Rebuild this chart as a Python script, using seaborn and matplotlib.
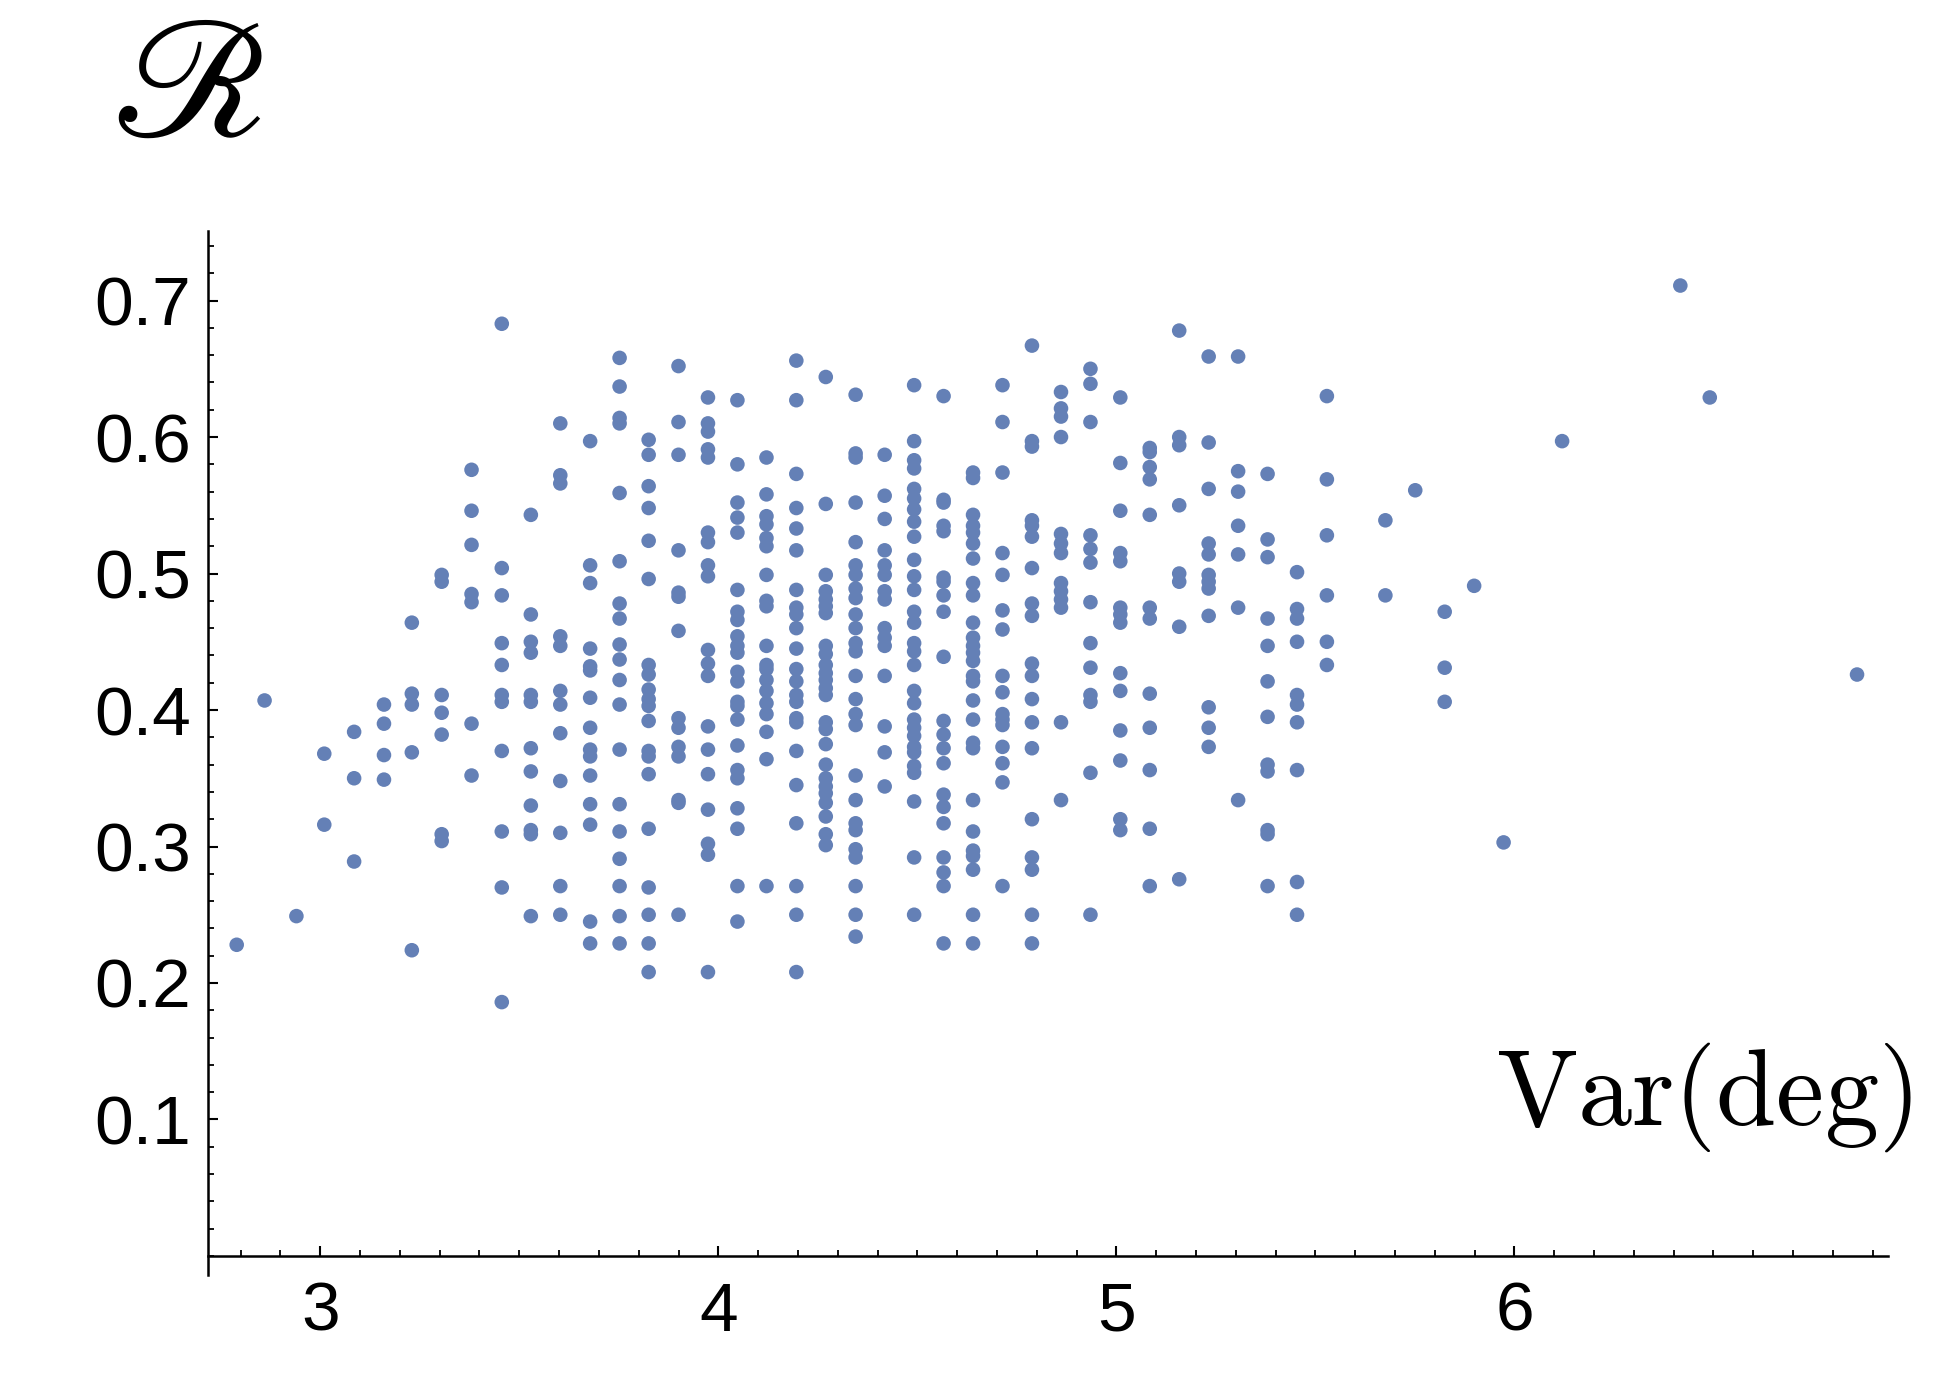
import numpy as np
import pandas as pd
import matplotlib
matplotlib.use("Agg")
import matplotlib.pyplot as plt
from matplotlib.ticker import MultipleLocator, FixedLocator
import seaborn as sns

# x position of each column of points (Var(deg)) and the R values read in that column
col_x = [2.79, 2.86, 2.94, 3.01, 3.085, 3.16, 3.23, 3.305, 3.38, 3.456,
         3.529, 3.603, 3.678, 3.752, 3.825, 3.900, 3.974, 4.048, 4.121, 4.196,
         4.270, 4.345, 4.418, 4.492, 4.566, 4.640, 4.714, 4.788, 4.861, 4.935,
         5.010, 5.084, 5.158, 5.232, 5.306, 5.380, 5.454, 5.529, 5.676, 5.751,
         5.825, 5.899, 5.973, 6.120, 6.417, 6.491, 6.861]

col_r = [
    [0.228],
    [0.407],
    [0.249],
    [0.368, 0.316],
    [0.384, 0.350, 0.289],
    [0.404, 0.390, 0.367, 0.349],
    [0.464, 0.412, 0.404, 0.369, 0.224],
    [0.499, 0.494, 0.411, 0.398, 0.382, 0.309, 0.304],
    [0.576, 0.546, 0.521, 0.485, 0.479, 0.390, 0.352],
    [0.683, 0.504, 0.484, 0.449, 0.433, 0.411, 0.406, 0.370, 0.311, 0.270, 0.186],
    [0.543, 0.470, 0.450, 0.442, 0.411, 0.406, 0.372, 0.355, 0.330, 0.312, 0.309, 0.249],
    [0.610, 0.572, 0.566, 0.454, 0.447, 0.414, 0.404, 0.383, 0.348, 0.310, 0.271, 0.250],
    [0.597, 0.506, 0.493, 0.445, 0.432, 0.429, 0.409, 0.387, 0.371, 0.366, 0.352, 0.331,
     0.316, 0.245, 0.229],
    [0.658, 0.637, 0.614, 0.610, 0.559, 0.509, 0.478, 0.467, 0.448, 0.437, 0.422, 0.404,
     0.371, 0.331, 0.311, 0.291, 0.271, 0.249, 0.229],
    [0.598, 0.587, 0.564, 0.548, 0.524, 0.496, 0.433, 0.426, 0.415, 0.408, 0.403, 0.392,
     0.370, 0.366, 0.353, 0.313, 0.270, 0.250, 0.229, 0.208],
    [0.652, 0.611, 0.587, 0.517, 0.486, 0.483, 0.458, 0.394, 0.387, 0.373, 0.366, 0.334,
     0.332, 0.250],
    [0.629, 0.610, 0.604, 0.591, 0.585, 0.530, 0.523, 0.506, 0.498, 0.444, 0.434, 0.425,
     0.388, 0.371, 0.353, 0.327, 0.302, 0.294, 0.208],
    [0.627, 0.580, 0.552, 0.541, 0.530, 0.488, 0.472, 0.466, 0.454, 0.447, 0.442, 0.428,
     0.421, 0.406, 0.403, 0.393, 0.374, 0.356, 0.350, 0.328, 0.313, 0.271, 0.245],
    [0.585, 0.558, 0.542, 0.536, 0.526, 0.520, 0.499, 0.480, 0.476, 0.447, 0.433, 0.430,
     0.422, 0.414, 0.405, 0.397, 0.384, 0.364, 0.271],
    [0.656, 0.627, 0.573, 0.548, 0.533, 0.517, 0.488, 0.475, 0.470, 0.460, 0.445, 0.430,
     0.421, 0.411, 0.406, 0.394, 0.391, 0.370, 0.345, 0.317, 0.271, 0.250, 0.208],
    [0.644, 0.551, 0.499, 0.487, 0.481, 0.476, 0.471, 0.447, 0.441, 0.433, 0.427, 0.422,
     0.416, 0.411, 0.391, 0.386, 0.375, 0.360, 0.350, 0.344, 0.339, 0.332, 0.322, 0.309,
     0.301],
    [0.631, 0.588, 0.585, 0.552, 0.523, 0.506, 0.499, 0.489, 0.482, 0.470, 0.460, 0.449,
     0.443, 0.425, 0.408, 0.397, 0.389, 0.352, 0.334, 0.317, 0.312, 0.298, 0.292, 0.271,
     0.250, 0.234],
    [0.587, 0.557, 0.540, 0.517, 0.506, 0.499, 0.487, 0.481, 0.460, 0.453, 0.447, 0.425,
     0.388, 0.369, 0.344],
    [0.638, 0.597, 0.583, 0.577, 0.562, 0.555, 0.547, 0.538, 0.527, 0.510, 0.498, 0.488,
     0.472, 0.464, 0.449, 0.443, 0.433, 0.414, 0.405, 0.393, 0.387, 0.381, 0.373, 0.369,
     0.359, 0.354, 0.333, 0.292, 0.250],
    [0.630, 0.554, 0.552, 0.535, 0.531, 0.497, 0.494, 0.484, 0.472, 0.439, 0.392, 0.382,
     0.372, 0.361, 0.338, 0.329, 0.317, 0.292, 0.281, 0.271, 0.229],
    [0.574, 0.570, 0.543, 0.535, 0.530, 0.522, 0.511, 0.493, 0.484, 0.464, 0.453, 0.447,
     0.442, 0.436, 0.425, 0.421, 0.407, 0.393, 0.376, 0.372, 0.334, 0.311, 0.297, 0.293,
     0.283, 0.250, 0.229],
    [0.638, 0.611, 0.574, 0.515, 0.499, 0.473, 0.459, 0.425, 0.413, 0.397, 0.393, 0.389,
     0.373, 0.361, 0.347, 0.271],
    [0.667, 0.597, 0.593, 0.539, 0.535, 0.527, 0.504, 0.478, 0.469, 0.434, 0.425, 0.408,
     0.391, 0.372, 0.320, 0.292, 0.283, 0.250, 0.229],
    [0.633, 0.621, 0.615, 0.600, 0.529, 0.522, 0.515, 0.493, 0.487, 0.481, 0.475, 0.391,
     0.334],
    [0.650, 0.639, 0.611, 0.528, 0.518, 0.508, 0.479, 0.449, 0.431, 0.411, 0.406, 0.354,
     0.250],
    [0.629, 0.581, 0.546, 0.515, 0.509, 0.475, 0.470, 0.464, 0.427, 0.414, 0.385, 0.363,
     0.320, 0.312],
    [0.592, 0.589, 0.578, 0.569, 0.543, 0.475, 0.467, 0.412, 0.387, 0.356, 0.313, 0.271],
    [0.678, 0.600, 0.594, 0.550, 0.500, 0.494, 0.461, 0.276],
    [0.659, 0.596, 0.562, 0.522, 0.514, 0.499, 0.494, 0.489, 0.469, 0.402, 0.387, 0.373],
    [0.659, 0.575, 0.560, 0.535, 0.514, 0.475, 0.334],
    [0.573, 0.525, 0.512, 0.467, 0.447, 0.421, 0.395, 0.360, 0.355, 0.312, 0.309, 0.271],
    [0.501, 0.474, 0.467, 0.450, 0.411, 0.404, 0.391, 0.356, 0.274, 0.250],
    [0.630, 0.569, 0.528, 0.484, 0.450, 0.433],
    [0.539, 0.484],
    [0.561],
    [0.472, 0.431, 0.406],
    [0.491],
    [0.303],
    [0.597],
    [0.711],
    [0.629],
    [0.426],
]

x_ticks = [3, 4, 5, 6]
y_ticks = [0.1, 0.2, 0.3, 0.4, 0.5, 0.6, 0.7]

rows = []
for cx, rs in zip(col_x, col_r):
    for r in rs:
        rows.append((cx, r))
df = pd.DataFrame(rows, columns=["var_deg", "R"])

sns.set_style("ticks")
plt.rcParams["font.family"] = ["Liberation Sans", "DejaVu Sans"]
plt.rcParams["text.color"] = "black"

fig = plt.figure(figsize=(19.59, 13.98), dpi=100)
ax = fig.add_axes([0.1062, 0.1016, 0.8576, 0.7332])

sns.scatterplot(data=df, x="var_deg", y="R", color="#6480b6", s=110,
                linewidth=0, edgecolor="none", ax=ax, legend=False)

ax.set_xlim(2.718, 6.939)
ax.set_ylim(0, 0.751)
ax.set_xlabel("")
ax.set_ylabel("")

for side in ["top", "right"]:
    ax.spines[side].set_visible(False)
for side in ["left", "bottom"]:
    ax.spines[side].set_linewidth(1.8)
    ax.spines[side].set_color("black")
# the vertical axis runs a little below the horizontal one
ax.spines["left"].set_bounds(-0.014, 0.751)
ax.set_ylim(0, 0.751)
ax.spines["left"].set_clip_on(False)

ax.xaxis.set_major_locator(FixedLocator(x_ticks))
ax.xaxis.set_minor_locator(MultipleLocator(0.1))
ax.yaxis.set_major_locator(FixedLocator(y_ticks))
ax.yaxis.set_minor_locator(MultipleLocator(0.02))
ax.set_xticklabels([str(t) for t in x_ticks])
ax.set_yticklabels([f"{t:.1f}" for t in y_ticks])

ax.tick_params(which="major", direction="in", length=7.5, width=1.5,
               labelsize=50, colors="black")
ax.tick_params(which="minor", direction="in", length=4, width=1.3, colors="black")
ax.tick_params(axis="y", which="major", pad=12)
ax.tick_params(axis="x", which="major", pad=18)

fig.text(0.976, 0.1953, r"$\mathrm{Var(deg)}$", ha="right", va="baseline",
         fontsize=78, math_fontfamily="cm", color="black")
fig.text(0.0955, 0.934, r"$\mathscr{R}$", ha="center", va="center",
         fontsize=122, math_fontfamily="stix", color="black")

fig.savefig("out.png", dpi=100)
